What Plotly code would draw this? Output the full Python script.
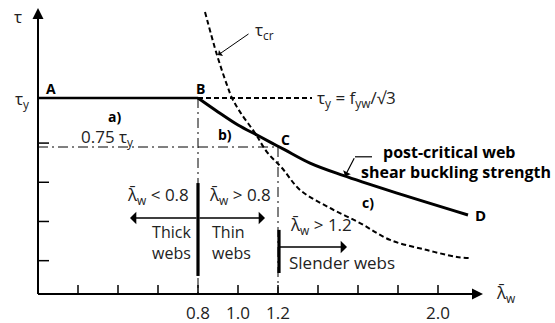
import plotly.graph_objects as go

# Shear resistance curve (B - C - D), tau / tau_y against slenderness
lam_main = [0.80, 0.90, 1.00, 1.095, 1.17, 1.235, 1.36, 1.525, 1.76, 2.15]
tau_main = [1.00, 0.929, 0.862, 0.811, 0.770, 0.735, 0.668, 0.605, 0.526, 0.403]

# Elastic critical shear stress curve tau_cr
lam_cr = [0.835, 0.895, 0.945, 0.97, 1.01, 1.085, 1.145, 1.22, 1.31, 1.45, 1.61, 1.76, 1.945, 2.095, 2.16]
tau_cr = [1.439, 1.219, 1.066, 1.0, 0.929, 0.821, 0.724, 0.643, 0.531, 0.444, 0.362, 0.276, 0.224, 0.189, 0.184]

# Plateau A - B and the yield line continuation
lam_plateau = [0.0, 0.8]
tau_plateau = [1.0, 1.0]
lam_yield_ext = [0.8, 1.37]

# Slenderness limits
lam_thick_limit = 0.8
lam_slender_limit = 1.2
tau_075 = 0.75

# Axis ticks
x_ticks = [0.2, 0.4, 0.6, 0.8, 1.0, 1.2, 1.4, 1.6, 1.8, 2.0]
x_tick_labels = {0.8: "0.8", 1.0: "1.0", 1.2: "1.2", 2.0: "2.0"}
y_ticks = [0.17, 0.37, 0.57, 0.77]

FONT = "Open Sans"
TXT = "#222222"
LBAR = "λ\u0304<sub>w</sub>"

fig = go.Figure()

def line(x, y, width, dash="solid", shape="linear"):
    fig.add_trace(go.Scatter(x=x, y=y, mode="lines", hoverinfo="skip",
                             line=dict(color="black", width=width, dash=dash, shape=shape)))

# guide lines
line([0, lam_slender_limit], [tau_075, tau_075], 1, "10px,4px,2px,4px")
line([lam_thick_limit, lam_thick_limit], [1.0, 0], 1, "10px,4px,2px,4px")
line([lam_slender_limit, lam_slender_limit], [tau_075, 0], 1, "10px,4px,2px,4px")

# curves
line(lam_yield_ext, [1.0, 1.0], 1.8, "5px,3px")
line(lam_cr, tau_cr, 2, "5px,3px", "spline")
line(lam_plateau, tau_plateau, 2.5)
line(lam_main, tau_main, 3, "solid", "spline")

# thick limit bars
line([lam_thick_limit, lam_thick_limit], [0.566, 0.092], 3.2)
line([lam_slender_limit + 0.005] * 2, [0.327, 0.107], 3.2)

# axis lines
line([0, 2.2], [0, 0], 2)
line([0, 0], [0, 1.44], 2)

# ticks
for xv in x_ticks:
    line([xv, xv], [0, 0.046], 1.5)
for yv in y_ticks:
    line([0, 0.055], [yv, yv], 1.5)

ann = []

def arrow(x, y, ax, ay, width=1.5, head=2, size=1.0):
    ann.append(dict(x=x, y=y, ax=ax, ay=ay, xref="x", yref="y", axref="x", ayref="y",
                    text="", showarrow=True, arrowhead=head, arrowwidth=width,
                    arrowsize=size, arrowcolor="black"))

def text(x, y, t, size=17, bold=False, xanchor="center", color=TXT, align="center"):
    if bold:
        t = "<b>" + t + "</b>"
    ann.append(dict(x=x, y=y, xref="x", yref="y", text=t, showarrow=False,
                    xanchor=xanchor, yanchor="middle", align=align,
                    font=dict(family=FONT, size=size, color=color)))

# axis arrows
arrow(2.225, 0, 2.1, 0, width=2, head=2, size=1.1)
arrow(0, 1.459, 0, 1.35, width=2, head=2, size=1.1)

# web classification arrows
arrow(0.46, 0.388, lam_thick_limit, 0.388, width=1.5, head=1, size=1.4)
arrow(1.135, 0.388, lam_thick_limit, 0.388, width=1.5, head=1, size=1.4)
arrow(1.545, 0.24, lam_slender_limit, 0.24, width=1.5, head=1, size=1.4)

# tau_cr pointer
arrow(0.9, 1.219, 1.06, 1.332, width=1, head=1, size=1.2)

# post-critical pointer
line([1.67, 1.585], [0.70, 0.70], 1.2)
arrow(1.535, 0.602, 1.585, 0.70, width=1.2, head=1, size=1.2)

# x tick labels
for xv, lab in x_tick_labels.items():
    text(xv, -0.092, lab)

text(2.34, 0.0, LBAR, size=17)
text(-0.1, 1.418, "τ", size=17)
text(-0.08, 0.99, "τ<sub>y</sub>", size=17)
text(0.065, 1.046, "A", size=14, bold=True, color="black")
text(0.81, 1.046, "B", size=14, bold=True, color="black")
text(1.235, 0.79, "C", size=14, bold=True, color="black")
text(2.21, 0.403, "D", size=15, bold=True, color="black")
text(0.38, 0.908, "a)", size=14, bold=True, color="black")
text(0.935, 0.816, "b)", size=14, bold=True, color="black")
text(1.65, 0.465, "c)", size=14, bold=True, color="black")
text(0.345, 0.80, "0.75 τ<sub>y</sub>", size=17)
text(1.13, 1.342, "τ<sub>cr</sub>", size=17)
text(1.385, 1.0, "τ<sub>y</sub> = f<sub>yw</sub>/√3", size=17, xanchor="left")
text(2.053, 0.724, "post-critical web", size=16, bold=True, color="black")
text(2.09, 0.622, "shear buckling strength", size=16, bold=True, color="black")

text(0.6, 0.505, LBAR + " < 0.8")
text(1.01, 0.505, LBAR + " > 0.8")
text(0.775, 0.262, "Thick<br>webs", size=16, xanchor="right", align="right")
text(0.86, 0.262, "Thin<br>webs", size=16, xanchor="left", align="left")
text(1.415, 0.352, LBAR + " > 1.2")
text(1.52, 0.163, "Slender webs")

fig.update_layout(
    width=555, height=323,
    margin=dict(l=0, r=0, t=0, b=0),
    paper_bgcolor="white", plot_bgcolor="white",
    showlegend=False,
    xaxis=dict(range=[-0.19, 2.585], visible=False, fixedrange=True),
    yaxis=dict(range=[-0.148, 1.5], visible=False, fixedrange=True),
    annotations=ann,
)

fig.write_html("out.html")
